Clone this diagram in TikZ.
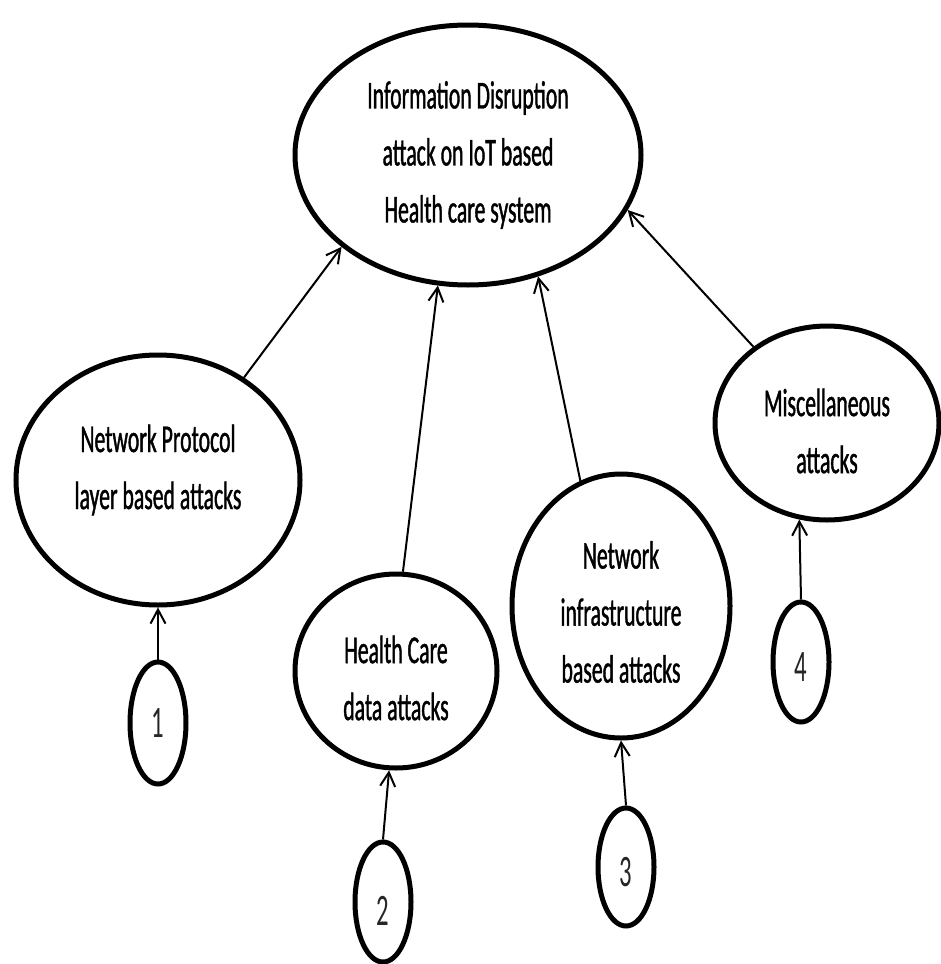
\documentclass[tikz,border=0pt]{standalone}
\usepackage{fontspec}
\setmainfont{Carlito}[FakeStretch=0.55, FakeBold=1]
\newfontfamily\digitfont{Carlito}[FakeStretch=0.55]
\usetikzlibrary{shapes.geometric,arrows.meta}
\begin{document}
\begin{tikzpicture}[x=1pt,y=-1pt,
  oval/.style={draw, ellipse, line width=5pt, inner sep=0pt},
  bubble/.style={oval, minimum width=56pt},
  txt/.style={font=\fontsize{39.5}{57}\selectfont, align=center, inner sep=0pt},
  digit/.style={font=\digitfont\fontsize{45}{50}\selectfont, text=black!85, inner sep=0pt},
  link/.style={line width=2pt, -{Straight Barb[length=14pt,width=15pt]}}]

% canvas
\fill[white] (0,0) rectangle (941,964);
\useasboundingbox (0,0) rectangle (941,964);

% root of the attack tree
\node[oval, minimum width=346pt, minimum height=260pt,
      label={[txt]center:{Information Disruption\\attack on IoT based\\Health care system}}]
  (root) at (468,155) {};

% attack categories
\node[oval, minimum width=284pt, minimum height=250pt,
      label={[txt, yshift=10pt]center:{Network Protocol\\layer based attacks}}]
  (proto) at (158,480) {};
\node[oval, minimum width=202pt, minimum height=194pt,
      label={[txt, yshift=-7pt]center:{Health Care\\data attacks}}]
  (health) at (396,671) {};
\node[oval, minimum width=218pt, minimum height=264pt,
      label={[txt, yshift=-6pt]center:{Network\\infrastructure\\based attacks}}]
  (infra) at (621,606) {};
\node[oval, minimum width=224pt, minimum height=194pt,
      label={[txt, yshift=-8pt]center:{Miscellaneous\\attacks}}]
  (misc) at (827,423) {};

% numbered markers
\node[bubble, minimum height=122pt, label={[digit]center:1}] (n1) at (158,723) {};
\node[bubble, minimum height=120pt, label={[digit, yshift=-9pt]center:2}] (n2) at (383,902) {};
\node[bubble, minimum height=118pt, label={[digit, yshift=-5pt]center:3}] (n3) at (626,867) {};
\node[bubble, minimum height=120pt, label={[digit, yshift=-5pt]center:4}] (n4) at (801,662) {};

% categories feed the root
\draw[link] (proto.50)  -- (root.216);
\draw[link] (health.86) -- (root.257);
\draw[link] (infra.108) -- (root.300);
\draw[link] (misc.134)  -- (root.341);

% markers point at their categories
\draw[link] (n1.north) -- (proto.south);
\draw[link] (n2.north) -- (health.266);
\draw[link] (n3.north) -- (infra.south);
\draw[link] (n4.north) -- (misc.254);
\end{tikzpicture}
\end{document}
